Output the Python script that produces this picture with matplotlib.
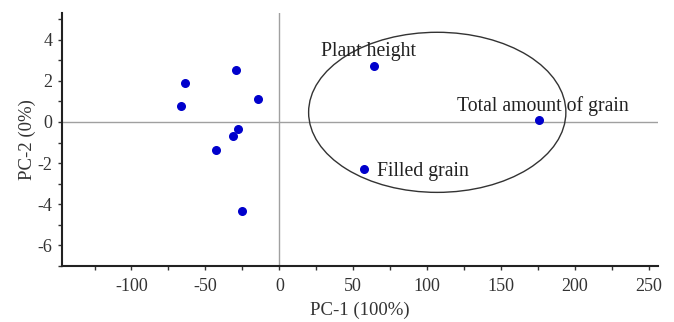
import matplotlib.pyplot as plt
from matplotlib.patches import Ellipse
from matplotlib.ticker import MultipleLocator

plt.rcParams['font.family'] = ['Liberation Serif', 'DejaVu Serif']
plt.rcParams['axes.unicode_minus'] = False

# scores (unlabelled samples)
pc1 = [-63.5, -66.7, -29, -14.4, -28.2, -31.5, -42.6, -25]
pc2 = [1.88, 0.78, 2.55, 1.14, -0.33, -0.68, -1.35, -4.34]

# labelled traits
traits = ['Plant height', 'Total amount of grain', 'Filled grain']
trait_pc1 = [64.2, 175.7, 57]
trait_pc2 = [2.71, 0.11, -2.29]

fig = plt.figure(figsize=(6.74, 3.22), dpi=100)
ax = fig.add_axes([0.092, 0.175, 0.884, 0.784])

ax.axhline(0, color='#a0a0a0', lw=1, zorder=0)
ax.axvline(0, color='#a0a0a0', lw=1, zorder=0)

ax.scatter(pc1, pc2, s=30, color='#0000cc', zorder=3)
ax.scatter(trait_pc1, trait_pc2, s=30, color='#0000cc', zorder=3)

ax.add_patch(Ellipse((106.8, 0.47), 174, 7.8, fill=False, ec='#333333', lw=1))

ax.text(28, 3.2, traits[0], fontsize=14.2, va='baseline', color='#222222')
ax.text(120, 0.55, traits[1], fontsize=14.2, va='baseline', color='#222222')
ax.text(66, -2.4, traits[2], fontsize=14.2, va='center', color='#222222')

ax.set_xlim(-147, 256)
ax.set_ylim(-7, 5.3)
ax.xaxis.set_major_locator(MultipleLocator(50))
ax.xaxis.set_minor_locator(MultipleLocator(25))
ax.yaxis.set_major_locator(MultipleLocator(2))
ax.yaxis.set_minor_locator(MultipleLocator(1))
ax.tick_params(which='both', length=3, width=1, labelsize=13, colors='#333333')
ax.tick_params(axis='x', pad=6)
ax.tick_params(axis='y', pad=4)

for s in ['top', 'right']:
    ax.spines[s].set_visible(False)
for s in ['left', 'bottom']:
    ax.spines[s].set_linewidth(1.5)
    ax.spines[s].set_color('#222222')

ax.set_xlabel('PC-1 (100%)', fontsize=13.5, color='#333333', labelpad=5)
ax.set_ylabel('PC-2 (0%)', fontsize=13.5, color='#333333', labelpad=1)

fig.savefig('out.png', dpi=100)
